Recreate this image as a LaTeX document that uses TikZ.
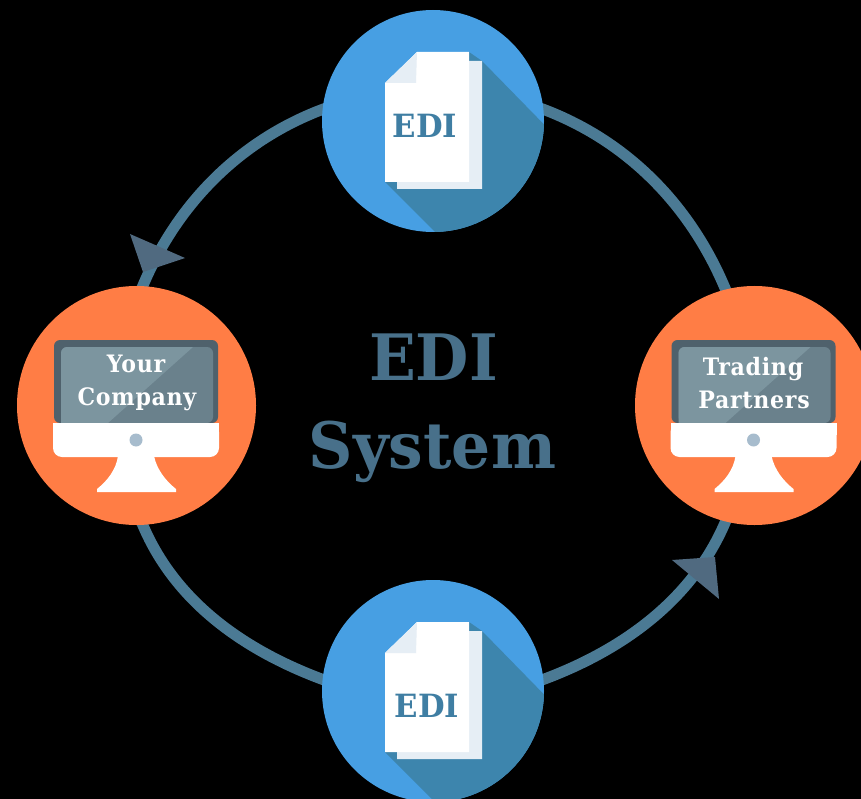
\documentclass[tikz,border=0pt]{standalone}
\usepackage{fontspec}
\setmainfont{DejaVu Serif}
\newfontfamily\labelfont[FakeStretch=0.96]{DejaVu Serif}
\newfontfamily\smallfont[FakeStretch=0.92,LetterSpace=3]{DejaVu Serif}
\definecolor{ringcol}{HTML}{4B7A94}
\definecolor{arrowcol}{HTML}{506A80}
\definecolor{bluecirc}{HTML}{479FE3}
\definecolor{blueshade}{HTML}{3D85AD}
\definecolor{orangecirc}{HTML}{FF7D45}
\definecolor{pagepale}{HTML}{E6EEF5}
\definecolor{titlecol}{HTML}{48708A}
\definecolor{docword}{HTML}{3F7EA3}
\definecolor{framecol}{HTML}{4F616C}
\definecolor{screenlight}{HTML}{7C959F}
\definecolor{screendark}{HTML}{6A818C}
\definecolor{dotcol}{HTML}{A7BCCD}
\pgfdeclarelayer{backdrop}
\pgfdeclarelayer{conn}
\pgfsetlayers{backdrop,conn,main}
\tikzset{
  bluenode/.style={circle,fill=bluecirc,inner sep=0pt,minimum size=222pt},
  orangenode/.style={circle,fill=orangecirc,inner sep=0pt,minimum size=239pt},
  ringseg/.style={draw=ringcol,line width=11pt,looseness=0.89,shorten <=-4pt,shorten >=-4pt},
  headtri/.style={fill=arrowcol},
  monword/.style={text=white,font=\smallfont\bfseries\fontsize{24}{24}\selectfont,anchor=base,inner sep=0pt},
  docwordstyle/.style={text=docword,font=\labelfont\bfseries\fontsize{32}{32}\selectfont,inner sep=0pt},
  titleword/.style={text=titlecol,font=\labelfont\bfseries\fontsize{64}{64}\selectfont,anchor=base,inner sep=0pt}
}
\newcommand{\docicon}{%
  \begin{scope}
    \clip (433,121) circle (111);
    \fill[blueshade] (469,52) -- (482,61) -- (569,150) -- (569,320) -- (523,320) -- (385,182) -- cycle;
  \end{scope}
  \fill[pagepale] (469,61) -- (482,61) -- (482,189) -- (397,189) -- (397,182) -- (469,182) -- cycle;
  \fill[white] (417,52) -- (469,52) -- (469,182) -- (385,182) -- (385,83) -- cycle;
  \fill[pagepale] (417,52) -- (416,83) -- (385,83) -- cycle;
}
\newcommand{\monitoricon}{%
  \fill[framecol,rounded corners=6pt] (54,423) -- (54,340) -- (218,340) -- (218,423) -- cycle;
  \fill[screendark,rounded corners=6pt] (61,423) -- (61,347) -- (213,347) -- (213,423) -- cycle;
  \begin{scope}
    \clip[rounded corners=6pt] (61,430) -- (61,347) -- (213,347) -- (213,430) -- cycle;
    \fill[screenlight] (61,347) -- (193,347) -- (108,423) -- (61,423) -- cycle;
  \end{scope}
  \fill[white,rounded corners=9pt] (53,423) -- (219,423) -- (219,457) -- (53,457) -- cycle;
  \fill[white] (53,423) rectangle (219,435);
  \fill[white] (118,456) .. controls (116,470) and (107,481) .. (97,489) -- (97,492) -- (176,492) -- (176,489) .. controls (166,481) and (157,470) .. (154,456) -- cycle;
  \fill[dotcol] (136,440) circle (6.5);
}
\begin{document}
\begin{tikzpicture}[x=1pt,y=-1pt]
\useasboundingbox (0,0) rectangle (861,799);
\begin{pgfonlayer}{backdrop}
  \fill[black] (0,0) rectangle (861,799);
\end{pgfonlayer}
\node[bluenode] (ntop) at (433,121) {};
\node[bluenode] (nbottom) at (433,691) {};
\node[orangenode] (nleft) at (136.5,405.5) {};
\node[orangenode] (nright) at (754.5,405.5) {};
\begin{pgfonlayer}{conn}
  \draw[ringseg] (ntop.6) to[out=-20,in=112] (nright.104);
  \draw[ringseg] (ntop.174) to[out=200,in=68] (nleft.87);
  \draw[ringseg] (nbottom.6) to[out=20,in=248] (nright.256);
  \draw[ringseg] (nbottom.174) to[out=160,in=292] (nleft.273);
\end{pgfonlayer}
\docicon
\begin{scope}[shift={(0,570)}]\docicon\end{scope}
\monitoricon
\begin{scope}[shift={(617.5,0)}]\monitoricon\end{scope}
\fill[headtri] (130,234) -- (185,258) -- (143,272) -- cycle;
\fill[headtri] (672,560) -- (715,557) -- (719,599) -- cycle;
\node[docwordstyle] (doca) at (425,126) {EDI};
\node[docwordstyle] (docb) at (427,706) {EDI};
\node[monword] (w1) at (136,372.5) {Your};
\node[monword] (w2) at (137,405) {Company};
\node[monword] (w3) at (753,375) {Trading};
\node[monword] (w4) at (754,408) {Partners};
\node[titleword] (t1) at (433.5,380) {EDI};
\node[titleword] (t2) at (432.5,468) {System};
\end{tikzpicture}
\end{document}
